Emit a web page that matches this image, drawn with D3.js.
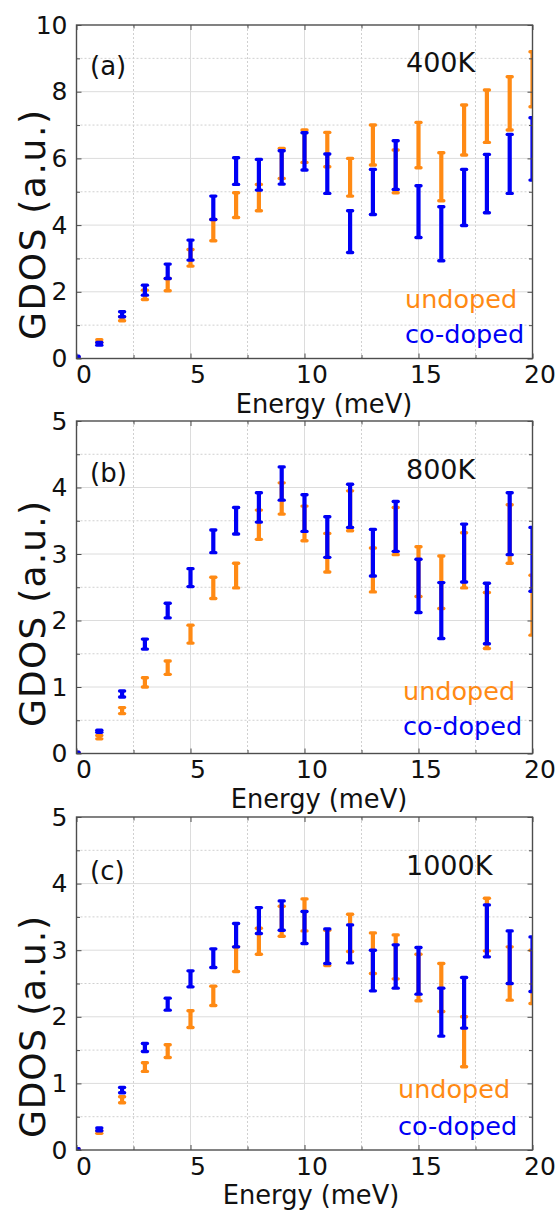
<!DOCTYPE html>
<html lang="en">

<head>
  <meta charset="UTF-8">
  <title>GDOS</title>
  <style>
    body { margin: 0; background: #fff; }
    text { font-family: "DejaVu Sans", sans-serif; }
  </style>
</head>

<body>

  <script src="https://cdn.jsdelivr.net/npm/d3@7"></script>
  <script>

    // energy points (meV)
    let energy = [0, 1, 2, 3, 4, 5, 6, 7, 8, 9, 10, 11, 12, 13, 14, 15, 16, 17, 18, 19, 20]

    // error bars as [low, high]
    let undoped400 = [[0.02, 0.05], [0.48, 0.56], [1.13, 1.25], [1.77, 2.05], [2.03, 2.40], [2.77, 3.27], [3.53, 4.17],
      [4.23, 4.97], [4.43, 5.22], [5.40, 6.30], [5.88, 6.85], [5.75, 6.78], [4.87, 6.00], [5.80, 7.00], [4.97, 6.25],
      [5.72, 7.08], [4.73, 6.17], [6.10, 7.60], [6.48, 8.05], [6.85, 8.45], [7.55, 9.20]]
    let codoped400 = [[0.03, 0.07], [0.40, 0.48], [1.25, 1.40], [1.90, 2.20], [2.40, 2.83], [2.95, 3.55], [4.17, 4.87],
      [5.22, 6.02], [5.05, 5.97], [5.23, 6.23], [5.65, 6.77], [4.95, 6.13], [3.18, 4.43], [4.32, 5.67], [5.07, 6.53],
      [3.63, 5.18], [2.93, 4.55], [3.99, 5.67], [4.37, 6.12], [4.95, 6.72], [5.35, 7.22]]

    let undoped800 = [[0, 0.02], [0.22, 0.27], [0.60, 0.69], [1.00, 1.14], [1.19, 1.39], [1.66, 1.93], [2.33, 2.65],
      [2.49, 2.86], [3.22, 3.66], [3.60, 4.07], [3.20, 3.72], [2.73, 3.31], [3.35, 3.95], [2.43, 3.09], [2.99, 3.70],
      [2.36, 3.11], [2.18, 2.97], [2.49, 3.32], [1.58, 2.42], [2.86, 3.74], [1.78, 2.68]]
    let codoped800 = [[0, 0.02], [0.32, 0.35], [0.85, 0.94], [1.57, 1.72], [2.04, 2.26], [2.51, 2.78], [3.02, 3.36],
      [3.30, 3.70], [3.48, 3.92], [3.81, 4.31], [3.34, 3.89], [2.95, 3.56], [3.40, 4.05], [2.67, 3.37], [3.04, 3.79],
      [2.12, 2.92], [1.73, 2.57], [2.58, 3.45], [1.65, 2.56], [2.99, 3.92], [2.44, 3.40]]

    let undoped1000 = [[0, 0.02], [0.25, 0.29], [0.71, 0.80], [1.18, 1.31], [1.39, 1.58], [1.84, 2.09], [2.17, 2.46],
      [2.68, 3.05], [2.94, 3.33], [3.21, 3.66], [3.29, 3.77], [2.77, 3.30], [2.98, 3.54], [2.65, 3.26], [2.57, 3.23],
      [2.24, 2.94], [2.08, 2.80], [1.25, 2.00], [2.99, 3.78], [2.25, 3.05], [2.20, 3.00]]
    let codoped1000 = [[0, 0.02], [0.29, 0.33], [0.86, 0.94], [1.48, 1.60], [2.10, 2.28], [2.45, 2.69], [2.74, 3.02],
      [3.05, 3.40], [3.25, 3.64], [3.30, 3.74], [3.10, 3.58], [2.80, 3.32], [2.81, 3.38], [2.39, 3.00], [2.43, 3.08],
      [2.34, 3.04], [1.71, 2.43], [1.83, 2.59], [2.90, 3.68], [2.50, 3.29], [2.38, 3.20]]

    // ticks
    let xMajor = [0, 5, 10, 15, 20]
    let xMinor = [2.5, 7.5, 12.5, 17.5]
    let yMajorA = [0, 2, 4, 6, 8, 10]
    let yMinorA = [1, 3, 5, 7, 9]
    let yMajorBC = [0, 1, 2, 3, 4, 5]
    let yMinorBC = [0.5, 1.5, 2.5, 3.5, 4.5]

    let letters = ['(a)', '(b)', '(c)']
    let temps = ['400K', '800K', '1000K']

    let orange = '#ff8a14'
    let blue = '#0000f5'

    let panels = [
      { top: 25, bottom: 358.5, ymax: 10, major: yMajorA, minor: yMinorA, und: undoped400, cod: codoped400,
        letterY: 74.5, tempY: 71.5, undY: 308, codY: 343, undX: 405, titleY: 225, titleLen: 230, energyX: 324 },
      { top: 421, bottom: 753.5, ymax: 5, major: yMajorBC, minor: yMinorBC, und: undoped800, cod: codoped800,
        letterY: 481.5, tempY: 478.5, undY: 700, codY: 735, undX: 403, titleY: 614, titleLen: 226, energyX: 319 },
      { top: 817, bottom: 1150, ymax: 5, major: yMajorBC, minor: yMinorBC, und: undoped1000, cod: codoped1000,
        letterY: 879.5, tempY: 875, undY: 1098, codY: 1135, undX: 398, titleY: 1027, titleLen: 222, energyX: 311 }
    ]

    let left = 76.5
    let right = 532.5

    let svg = d3.select('body')
      .append('svg')
      .attr('width', 558)
      .attr('height', 1211)

    let x = d3.scaleLinear().domain([0, 20]).range([left, right])

    panels.forEach((p, k) => {
      let y = d3.scaleLinear().domain([0, p.ymax]).range([p.bottom, p.top])
      let g = svg.append('g')

      // grid
      g.selectAll('.gxm').data(xMinor).join('line')
        .attr('x1', d => x(d)).attr('x2', d => x(d)).attr('y1', p.top).attr('y2', p.bottom)
        .attr('stroke', '#d0d0d0').attr('stroke-dasharray', '2,2')
      g.selectAll('.gym').data(p.minor).join('line')
        .attr('y1', d => y(d)).attr('y2', d => y(d)).attr('x1', left).attr('x2', right)
        .attr('stroke', '#d0d0d0').attr('stroke-dasharray', '2,2')
      g.selectAll('.gxM').data(xMajor.slice(1, -1)).join('line')
        .attr('x1', d => x(d)).attr('x2', d => x(d)).attr('y1', p.top).attr('y2', p.bottom)
        .attr('stroke', '#dcdcdc')
      g.selectAll('.gyM').data(p.major.slice(1, -1)).join('line')
        .attr('y1', d => y(d)).attr('y2', d => y(d)).attr('x1', left).attr('x2', right)
        .attr('stroke', '#dcdcdc')

      // error bars, clipped to the plot box
      let clipId = 'clip' + k
      svg.append('clipPath').attr('id', clipId)
        .append('rect').attr('x', left).attr('y', p.top)
        .attr('width', right - left).attr('height', p.bottom - p.top)
      let marks = g.append('g').attr('clip-path', `url(#${clipId})`)

      let drawSeries = (data, color) => {
        let s = marks.append('g')
        s.selectAll('.bar').data(data).join('line')
          .attr('x1', (d, i) => x(energy[i])).attr('x2', (d, i) => x(energy[i]))
          .attr('y1', d => y(d[0])).attr('y2', d => y(d[1]))
          .attr('stroke', color).attr('stroke-width', 4.2)
        let caps = []
        data.forEach((d, i) => { caps.push([energy[i], d[0]]); caps.push([energy[i], d[1]]) })
        s.selectAll('.cap').data(caps).join('line')
          .attr('x1', d => x(d[0]) - 2.5).attr('x2', d => x(d[0]) + 2.5)
          .attr('y1', d => y(d[1])).attr('y2', d => y(d[1]))
          .attr('stroke', color).attr('stroke-width', 3.4).attr('stroke-linecap', 'round')
      }
      drawSeries(p.und, orange)
      drawSeries(p.cod, blue)

      // axes with inward ticks
      let styleAxis = a => {
        a.select('.domain').remove()
        a.selectAll('line').attr('stroke', '#4d4d4d')
        a.selectAll('text').attr('font-size', 25).attr('fill', '#111')
          .attr('font-family', '"DejaVu Sans", sans-serif')
      }
      let fmt = d3.format('~g')
      let bottomAx = g.append('g').attr('transform', `translate(0,${p.bottom})`)
        .call(d3.axisBottom(x).tickValues(xMajor).tickFormat(fmt).tickSizeInner(-5).tickSizeOuter(0).tickPadding(7))
      styleAxis(bottomAx)
      bottomAx.selectAll('text').attr('x', 7)
      g.append('g').attr('transform', `translate(0,${p.bottom})`)
        .call(d3.axisBottom(x).tickValues(xMinor).tickSizeInner(-3.5).tickSizeOuter(0).tickFormat(''))
        .call(styleAxis)
      g.append('g').attr('transform', `translate(0,${p.top})`)
        .call(d3.axisTop(x).tickValues(xMajor).tickSizeInner(-5).tickSizeOuter(0).tickFormat(''))
        .call(styleAxis)
      g.append('g').attr('transform', `translate(0,${p.top})`)
        .call(d3.axisTop(x).tickValues(xMinor).tickSizeInner(-3.5).tickSizeOuter(0).tickFormat(''))
        .call(styleAxis)
      g.append('g').attr('transform', `translate(${left},0)`)
        .call(d3.axisLeft(y).tickValues(p.major).tickFormat(fmt).tickSizeInner(-5).tickSizeOuter(0).tickPadding(9))
        .call(styleAxis)
      g.append('g').attr('transform', `translate(${left},0)`)
        .call(d3.axisLeft(y).tickValues(p.minor).tickSizeInner(-3.5).tickSizeOuter(0).tickFormat(''))
        .call(styleAxis)
      g.append('g').attr('transform', `translate(${right},0)`)
        .call(d3.axisRight(y).tickValues(p.major).tickSizeInner(-5).tickSizeOuter(0).tickFormat(''))
        .call(styleAxis)
      g.append('g').attr('transform', `translate(${right},0)`)
        .call(d3.axisRight(y).tickValues(p.minor).tickSizeInner(-3.5).tickSizeOuter(0).tickFormat(''))
        .call(styleAxis)

      // frame
      g.append('rect')
        .attr('x', left).attr('y', p.top)
        .attr('width', right - left).attr('height', p.bottom - p.top)
        .attr('fill', 'none').attr('stroke', '#4d4d4d').attr('stroke-width', 1.4)

      // labels
      g.append('text').attr('x', 90).attr('y', p.letterY)
        .attr('font-size', 26).attr('fill', '#111').text(letters[k])
      g.append('text').attr('x', 406).attr('y', p.tempY)
        .attr('font-size', 27).attr('fill', '#111').text(temps[k])
      g.append('text').attr('x', p.undX).attr('y', p.undY)
        .attr('font-size', 25.5).attr('fill', orange).text('undoped')
      g.append('text').attr('x', p.undX).attr('y', p.codY)
        .attr('font-size', 25.5).attr('fill', blue).text('co-doped')

      g.append('text').attr('x', p.energyX).attr('y', p.bottom + 54)
        .attr('text-anchor', 'middle').attr('font-size', 25.7).attr('fill', '#111')
        .text('Energy (meV)')
      g.append('text')
        .attr('transform', `translate(45,${p.titleY}) rotate(-90)`)
        .attr('text-anchor', 'middle').attr('font-size', 36).attr('fill', '#111')
        .attr('textLength', p.titleLen).attr('lengthAdjust', 'spacing')
        .text('GDOS (a.u.)')
    })
  </script>
</body>

</html>
